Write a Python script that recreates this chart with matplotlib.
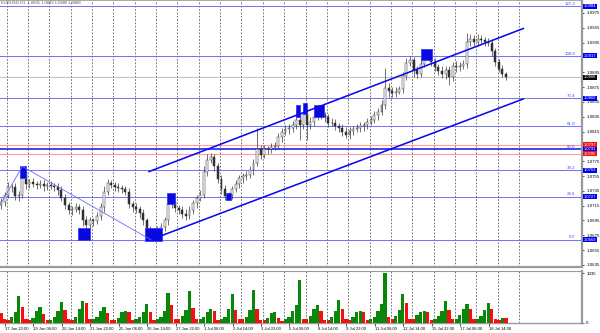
import matplotlib
matplotlib.use('Agg')
import matplotlib.pyplot as plt
from matplotlib.patches import Rectangle
from matplotlib.transforms import blended_transform_factory
import numpy as np

# EURUSD, drawn as 4h candles on an hourly bar axis (bar 0 = 17 Jun 16:00)
first_open = 1.0716
closes = [
    1.0720, 1.0729, 1.0740, 1.0740, 1.0728, 1.0730, 1.0761, 1.0744, 1.0747, 1.0744,
    1.0743, 1.0744, 1.0741, 1.0743, 1.0741, 1.0740, 1.0736, 1.0726, 1.0716, 1.0709,
    1.0710, 1.0713, 1.0709, 1.0695, 1.0689, 1.0695, 1.0694, 1.0701, 1.0713, 1.0734,
    1.0745, 1.0743, 1.0740, 1.0739, 1.0737, 1.0733, 1.0717, 1.0713, 1.0710, 1.0705,
    1.0695, 1.0683, 1.0679, 1.0679, 1.0682, 1.0686, 1.0695, 1.0717, 1.0720, 1.0712,
    1.0709, 1.0704, 1.0701, 1.0709, 1.0718, 1.0726, 1.0730, 1.0761, 1.0777, 1.0780,
    1.0768, 1.0751, 1.0737, 1.0728, 1.0729, 1.0737, 1.0744, 1.0752, 1.0755, 1.0757,
    1.0763, 1.0773, 1.0791, 1.0784, 1.0792, 1.0791, 1.0794, 1.0796, 1.0807, 1.0815,
    1.0818, 1.0820, 1.0824, 1.0830, 1.0824, 1.0838, 1.0824, 1.0828, 1.0834, 1.0837,
    1.0837, 1.0834, 1.0826, 1.0827, 1.0823, 1.0820, 1.0815, 1.0811, 1.0816, 1.0818,
    1.0820, 1.0822, 1.0824, 1.0828, 1.0831, 1.0837, 1.0842, 1.0851, 1.0874, 1.0870,
    1.0867, 1.0869, 1.0872, 1.0890, 1.0908, 1.0911, 1.0898, 1.0893, 1.0906, 1.0919,
    1.0916, 1.0909, 1.0902, 1.0897, 1.0892, 1.0898, 1.0888, 1.0904, 1.0902, 1.0904,
    1.0906, 1.0936, 1.0940, 1.0936, 1.0940, 1.0939, 1.0936, 1.0935, 1.0923, 1.0909,
    1.0900, 1.0893, 1.0888,
]
# wick length above / below the body, in pips
up_wick = [
    6, 5, 7, 4, 6, 5, 7, 5, 4, 5, 4, 5, 6, 4, 5, 4, 5, 6, 5, 4,
    5, 6, 4, 5, 6, 5, 4, 6, 5, 7, 6, 5, 4, 5, 4, 5, 6, 4, 5, 4,
    5, 4, 5, 6, 5, 6, 5, 10, 6, 5, 4, 5, 6, 5, 5, 4, 6, 8, 8, 6,
    5, 4, 5, 6, 4, 5, 6, 5, 4, 5, 6, 5, 29, 6, 5, 4, 6, 5, 6, 5,
    6, 5, 5, 14, 10, 10, 5, 6, 8, 8, 7, 5, 4, 6, 5, 4, 5, 6, 5, 4,
    5, 6, 4, 5, 5, 6, 5, 6, 27, 6, 5, 6, 5, 6, 6, 6, 5, 6, 6, 6,
    5, 6, 5, 4, 6, 5, 6, 5, 6, 5, 6, 12, 6, 5, 6, 5, 4, 5, 4, 5,
    4, 5, 3,
]
dn_wick = [
    5, 6, 4, 6, 5, 7, 5, 6, 5, 4, 5, 4, 6, 5, 4, 5, 6, 5, 6, 5,
    6, 4, 5, 7, 8, 5, 6, 4, 5, 6, 5, 4, 5, 6, 5, 4, 5, 6, 5, 6,
    6, 6, 10, 8, 5, 6, 5, 6, 5, 6, 5, 6, 5, 4, 5, 6, 5, 4, 6, 5,
    6, 5, 6, 5, 6, 5, 4, 5, 6, 5, 5, 6, 5, 6, 5, 6, 5, 4, 5, 6,
    5, 6, 5, 6, 20, 5, 20, 6, 5, 4, 5, 6, 5, 4, 6, 5, 6, 5, 6, 5,
    4, 5, 6, 5, 4, 5, 6, 5, 5, 8, 6, 5, 4, 5, 6, 5, 10, 6, 5, 4,
    5, 6, 5, 6, 5, 6, 10, 5, 6, 5, 4, 5, 6, 5, 6, 5, 6, 5, 6, 5,
    5, 4, 3,
]
volumes = [
    200, 80,
    70, 120, 230, 555, 330, 90,
    70, 110, 250, 330, 180, 60,
    70, 120, 260, 430, 280, 80,
    70, 130, 300, 470, 410, 80,
    90, 120, 250, 325, 200, 70,
    70, 110, 220, 260, 230, 60,
    80, 120, 220, 400, 230, 70,
    90, 130, 250, 620, 370, 90,
    80, 140, 280, 660, 320, 80,
    90, 130, 230, 300, 250, 70,
    80, 130, 300, 600, 280, 80,
    80, 130, 280, 680, 300, 70,
    70, 110, 200, 220, 110, 50,
    80, 130, 250, 380, 890, 90,
    90, 150, 300, 370, 260, 70,
    70, 130, 260, 490, 300, 80,
    70, 120, 230, 260, 220, 70,
    80, 130, 250, 400, 1035, 120,
    90, 140, 280, 615, 410, 80,
    80, 160, 220, 250, 220, 70,
    90, 140, 250, 470, 280, 80,
    90, 160, 300, 400, 300, 80,
    90, 150, 280, 410, 290, 90,
    70, 110, 100,
]
volume_max = 1035

time_labels = ['17 Jun 22:00', '19 Jun 06:00', '20 Jun 14:00', '21 Jun 22:00',
               '25 Jun 06:00', '26 Jun 14:00', '27 Jun 22:00', '1 Jul 06:00',
               '2 Jul 14:00', '3 Jul 22:00', '5 Jul 06:00', '8 Jul 14:00',
               '9 Jul 22:00', '11 Jul 06:00', '12 Jul 14:00', '15 Jul 22:00',
               '17 Jul 06:00', '18 Jul 14:00']
label_bars = [6, 38, 70, 102, 134, 166, 198, 230, 262, 294, 326, 358,
              390, 422, 454, 486, 518, 550]
day_bars = [8 + 24 * k for k in range(25)]

fib_names = ['127.2', '100.0', '76.4', '61.8', '50.0', '38.2', '23.6', '0.0']
fib_prices = [1.0984, 1.0917, 1.0860, 1.0822, 1.0791, 1.0763, 1.0727, 1.0669]
fib_boxed = [True, True, True, False, True, True, True, True]
red_levels = [1.0797, 1.0785]
last_price = 1.0888
price_ticks = [1.0635, 1.0655, 1.0675, 1.0695, 1.0715, 1.0735, 1.0755, 1.0775,
               1.0795, 1.0815, 1.0835, 1.0855, 1.0875, 1.0895, 1.0915, 1.0935,
               1.0955, 1.0975]

# zigzag swing markers: (first bar, last bar, low, high)
markers = [(23, 30, 1.0753, 1.0769), (88, 102, 1.0669, 1.0685),
           (163, 183, 1.0667, 1.0685), (188, 197, 1.0717, 1.0732),
           (255, 260, 1.0722, 1.0732), (333, 338, 1.0834, 1.0851),
           (341, 346, 1.0838, 1.0853), (354, 365, 1.0835, 1.0851),
           (474, 486, 1.0912, 1.0927)]
channel_upper = [(168, 1.0761), (589, 1.0954)]
channel_lower = [(183, 1.0675), (589, 1.0859)]
zigzag = [(0.4, 1.0716), (25.5, 1.0768), (170, 1.0669)]

PIP = 0.0001
XMIN, XMAX = 0.375, 655
FONT = ['Liberation Sans Narrow', 'Liberation Sans', 'DejaVu Sans']
plt.rcParams['font.family'] = FONT

fig = plt.figure(figsize=(6, 3.33), dpi=100, facecolor='white')
ax = fig.add_axes([0, 1 - 267 / 333, 582 / 600, 267 / 333])
axv = fig.add_axes([0, 1 - 323 / 333, 582 / 600, 52 / 333])

n = len(closes)
xs = np.arange(n) * 4 + 1.5
opens = [first_open] + closes[:-1]
highs = [max(o, c) + u * PIP for o, c, u in zip(opens, closes, up_wick)]
lows = [min(o, c) - d * PIP for o, c, d in zip(opens, closes, dn_wick)]

# day separators
for b in day_bars:
    for a in (ax, axv):
        a.axvline(b, color='#5a5a5a', lw=0.6, ls=(0, (2, 2)), zorder=1)

# level lines
tr = blended_transform_factory(ax.transAxes, ax.transData)
for name, p in zip(fib_names, fib_prices):
    if name == '50.0':
        ax.axhline(p, color='#1010e8', lw=1.1, zorder=2)
    else:
        ax.axhline(p, color='#7070f5', lw=0.7, zorder=2)
    ax.text(0.988, p + 0.4 * PIP, name, transform=tr, ha='right', va='bottom',
            fontsize=3.2, color='#4848f0', zorder=6)
for p in red_levels:
    ax.axhline(p, color='#ff9c9c', lw=0.8, zorder=2)
ax.axhline(last_price, color='#c4c4c4', lw=0.8, zorder=2)

# candles
ax.vlines(xs, lows, highs, color='#383838', lw=0.5, zorder=3)
bottoms = [min(o, c) for o, c in zip(opens, closes)]
heights = [max(abs(c - o), 0.3 * PIP) for o, c in zip(opens, closes)]
faces = ['white' if c >= o else '#303030' for o, c in zip(opens, closes)]
ax.bar(xs, heights, bottom=bottoms, width=2.2, color=faces, edgecolor='#303030',
       lw=0.35, zorder=4)

# markers and trend lines
for b0, b1, lo, hi in markers:
    ax.add_patch(Rectangle((b0, lo), b1 - b0, hi - lo, facecolor='#0808e0',
                           edgecolor='#3a3aff', lw=0.6, zorder=5))
for seg in (channel_upper, channel_lower):
    ax.plot([s[0] for s in seg], [s[1] for s in seg], color='#0a0af0', lw=1.15, zorder=5)
ax.plot([s[0] for s in zigzag], [s[1] for s in zigzag], color='#6a6aff', lw=0.6, zorder=5)

ax.set_xlim(XMIN, XMAX)
ax.set_ylim(1.0975 - 255 / 7440, 1.0975 + 13 / 7440)
ax.yaxis.tick_right()

# boxed price labels on the right scale hide the scale labels beneath them
box_items = [(p, '#0000f0') for p, b in zip(fib_prices, fib_boxed) if b]
box_items += [(p, '#f01010') for p in red_levels] + [(last_price, '#000000')]
shown = [t for t in price_ticks if all(abs(t - p) > 0.0004 for p, _ in box_items)]
ax.set_yticks(shown)
ax.set_yticklabels([f'{t:.4f}' for t in shown])
ax.tick_params(axis='y', labelsize=3.2, length=1.5, width=0.5, pad=1.5, colors='black')
ax.set_xticks([])
for p, col in box_items:
    ax.text(1.003, p, f'{p:.4f}', transform=tr, ha='left', va='center', fontsize=3.0,
            color='white', clip_on=False, zorder=10,
            bbox=dict(boxstyle='square,pad=0.12', fc=col, ec='none'))

# volumes: green when higher than previous bar
vcols = ['#0a870a' if i > 0 and v > volumes[i - 1] else '#f41010' for i, v in enumerate(volumes)]
axv.bar(xs, volumes, width=3.7, color=vcols, lw=0, zorder=3)
axv.set_xlim(XMIN, XMAX)
axv.set_ylim(0, volume_max * 1.05)
axv.yaxis.tick_right()
axv.set_yticks([0, volume_max])
axv.set_yticklabels(['0', str(volume_max)])
axv.tick_params(axis='y', labelsize=3.2, length=1.5, width=0.5, pad=1.5)
axv.set_xticks(label_bars)
axv.set_xticklabels(time_labels, ha='left')
axv.tick_params(axis='x', labelsize=3.0, length=2, width=0.5, pad=1)

for a in (ax, axv):
    a.spines['left'].set_visible(False)
    for s in ('top', 'right', 'bottom'):
        a.spines[s].set_color('#9a9a9a')
    a.spines['right'].set_linewidth(1.6)
ax.spines['bottom'].set_linewidth(1.6)
ax.spines['top'].set_linewidth(1.2)
axv.spines['top'].set_linewidth(0.8)
axv.spines['bottom'].set_linewidth(1.0)

fig.text(0.002, 0.997, 'EURUSD,H1  1.0891 1.0893 1.0886 1.0888', fontsize=3,
         color='#555555', va='top', ha='left')

fig.savefig('out.png', dpi=100, facecolor='white')
